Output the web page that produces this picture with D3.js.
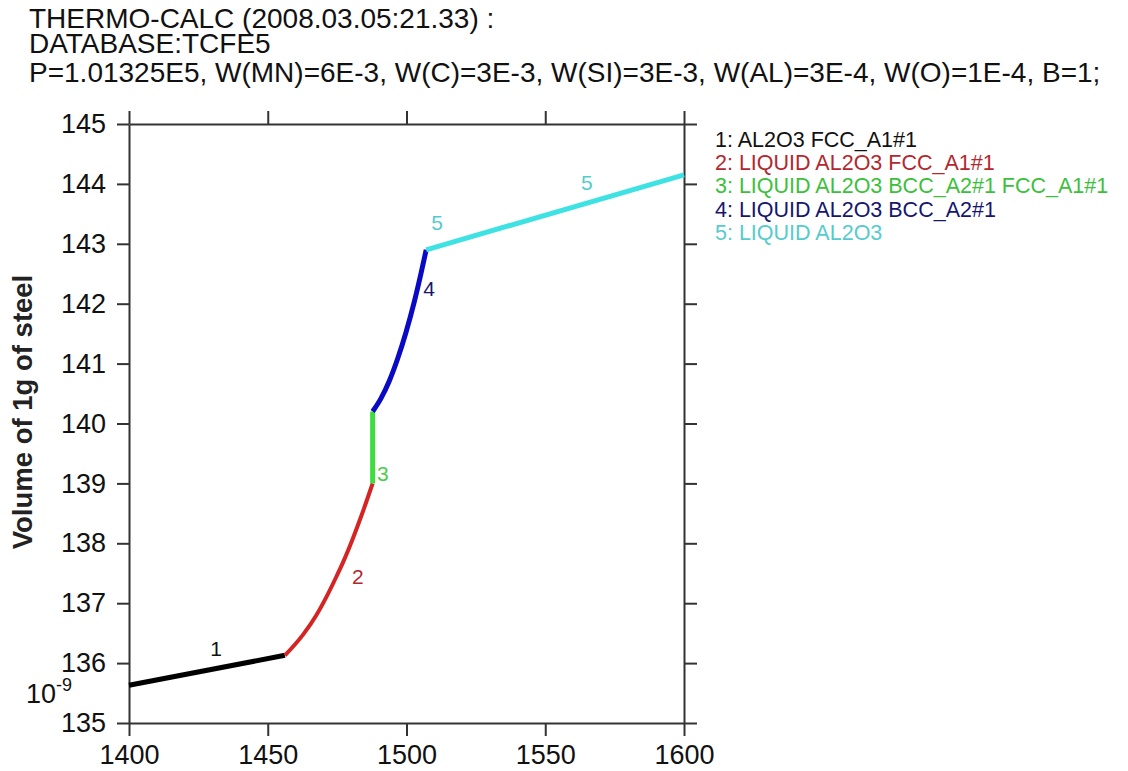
<!DOCTYPE html>
<html>
<head>
<meta charset="utf-8">
<script src="https://cdn.jsdelivr.net/npm/d3@7"></script>
<style>
  html, body { margin: 0; padding: 0; background: #fff; }
  svg { display: block; font-family: "Liberation Sans", Arial, sans-serif; }
</style>
</head>
<body>
<svg id="chart" width="1128" height="771"></svg>
<script>
// ---- Text ----
const titleLines = [
  "THERMO-CALC (2008.03.05:21.33) :",
  "DATABASE:TCFE5",
  "P=1.01325E5, W(MN)=6E-3, W(C)=3E-3, W(SI)=3E-3, W(AL)=3E-4, W(O)=1E-4, B=1;"
];
const yAxisTitle = "Volume of 1g of steel";
const legendLabels = [
  "1: AL2O3 FCC_A1#1",
  "2: LIQUID AL2O3 FCC_A1#1",
  "3: LIQUID AL2O3 BCC_A2#1 FCC_A1#1",
  "4: LIQUID AL2O3 BCC_A2#1",
  "5: LIQUID AL2O3"
];

// ---- Ticks ----
const xTicks = [1400, 1450, 1500, 1550, 1600];
const yTicks = [135, 136, 137, 138, 139, 140, 141, 142, 143, 144, 145];

// ---- Series (temperature, volume x 1e-9) ----
const s1T = [1400, 1456.2];
const s1V = [135.63, 136.13];
const s2T = [1456.2, 1462.8, 1467.5, 1471.2, 1474.8, 1477.2, 1480.5, 1483.9, 1487.8];
const s2V = [136.13, 136.48, 136.80, 137.11, 137.45, 137.69, 138.06, 138.48, 139.00];
const s3T = [1487.8, 1487.8];
const s3V = [139.00, 140.20];
const s4T = [1487.8, 1490.8, 1493.8, 1496.8, 1499.8, 1502.8, 1505.3, 1507.1];
const s4V = [140.20, 140.42, 140.71, 141.08, 141.52, 142.03, 142.52, 142.90];
const s5T = [1507.1, 1600];
const s5V = [142.90, 144.15];

// curve labels
const curveLabelT = [1431.4, 1482.5, 1491.5, 1508.1, 1511.0, 1565.0];
const curveLabelV = [136.25, 137.44, 139.16, 142.26, 143.35, 144.02];
const curveLabelText = ["1", "2", "3", "4", "5", "5"];
const curveLabelSeries = [0, 1, 2, 3, 4, 4];

const lineColors = ["#000000", "#d42424", "#3fdc3f", "#0a0ac4", "#3fe2e2"];
const labelColors = ["#111111", "#b3282e", "#4ccc4c", "#16166e", "#55cccc"];
const legendColors = ["#111111", "#b3282e", "#3cc03c", "#16166e", "#55cccc"];

const svg = d3.select("#chart");
const x = d3.scaleLinear().domain([1400, 1600]).range([129, 684]);
const y = d3.scaleLinear().domain([135, 145]).range([723, 124]);

// Title
const title = svg.append("g").attr("font-size", 28).attr("fill", "#111");
const titleBaselines = [28, 53, 82];
titleLines.forEach((t, i) => {
  title.append("text").attr("x", 29).attr("y", titleBaselines[i]).text(t);
});

// Axes
const axisColor = "#333";
function styleAxis(g, showText) {
  g.select(".domain").attr("stroke", axisColor).attr("stroke-width", 2);
  g.selectAll(".tick line").attr("stroke", axisColor).attr("stroke-width", 2);
  g.selectAll(".tick text").attr("font-size", 27).attr("fill", "#111")
    .attr("font-family", "Liberation Sans, Arial, sans-serif");
  if (!showText) g.selectAll(".tick text").remove();
}
svg.append("g").attr("transform", "translate(0,723)")
  .call(d3.axisBottom(x).tickValues(xTicks).tickFormat(d3.format("d")).tickSize(13).tickSizeOuter(0).tickPadding(9))
  .call(g => styleAxis(g, true));
svg.append("g").attr("transform", "translate(0,124)")
  .call(d3.axisTop(x).tickValues(xTicks).tickSize(13).tickSizeOuter(0))
  .call(g => styleAxis(g, false));
svg.append("g").attr("transform", "translate(129,0)")
  .call(d3.axisLeft(y).tickValues(yTicks).tickFormat(d3.format("d")).tickSize(12).tickSizeOuter(0).tickPadding(11))
  .call(g => styleAxis(g, true));
svg.append("g").attr("transform", "translate(684,0)")
  .call(d3.axisRight(y).tickValues(yTicks).tickSize(13).tickSizeOuter(0))
  .call(g => styleAxis(g, false));

// y-axis title
svg.append("text")
  .attr("transform", "translate(32,412) rotate(-90)")
  .attr("text-anchor", "middle")
  .attr("font-size", 27.5).attr("font-weight", "bold").attr("fill", "#222")
  .text(yAxisTitle);

// 10^-9 multiplier
const mult = svg.append("text").attr("x", 26).attr("y", 703).attr("font-size", 27).attr("fill", "#111");
mult.append("tspan").text("10");
mult.append("tspan").attr("font-size", 18).attr("dy", -12).text("-9");

// Curves
const seriesT = [s1T, s2T, s3T, s4T, s5T];
const seriesV = [s1V, s2V, s3V, s4V, s5V];
const widths = [5, 4, 5, 5, 5];
const curves = [d3.curveLinear, d3.curveMonotoneX, d3.curveLinear, d3.curveMonotoneX, d3.curveLinear];
seriesT.forEach((ts, i) => {
  const pts = ts.map((t, j) => [t, seriesV[i][j]]);
  const line = d3.line().x(d => x(d[0])).y(d => y(d[1])).curve(curves[i]);
  svg.append("path").datum(pts)
    .attr("d", line)
    .attr("fill", "none")
    .attr("stroke", lineColors[i])
    .attr("stroke-width", widths[i])
    .attr("stroke-linecap", "butt");
});

// Curve labels
curveLabelT.forEach((t, i) => {
  svg.append("text")
    .attr("x", x(t)).attr("y", y(curveLabelV[i]))
    .attr("text-anchor", "middle").attr("dy", "0.36em")
    .attr("font-size", 21)
    .attr("fill", labelColors[curveLabelSeries[i]])
    .text(curveLabelText[i]);
});

// Legend
legendLabels.forEach((t, i) => {
  svg.append("text")
    .attr("x", 715).attr("y", 147 + i * 23.2)
    .attr("font-size", 21.5)
    .attr("fill", legendColors[i])
    .text(t);
});
</script>
</body>
</html>
